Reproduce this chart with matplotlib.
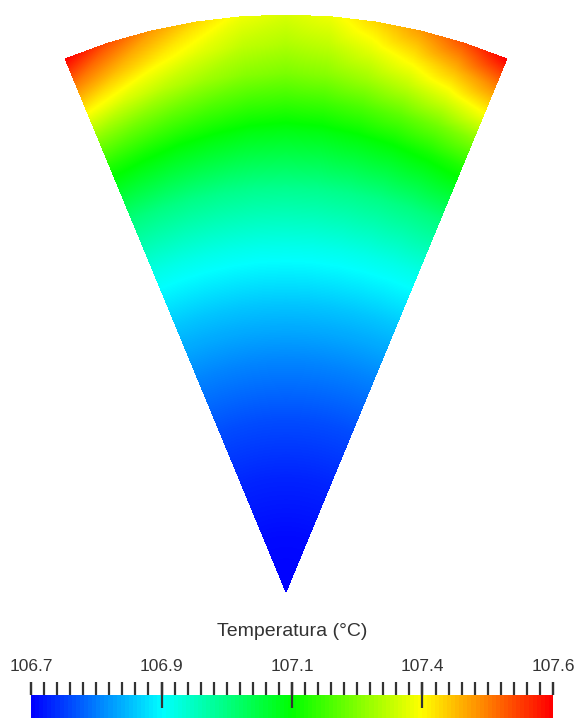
import numpy as np
import matplotlib
matplotlib.use("Agg")
import matplotlib.pyplot as plt
from matplotlib.colors import LinearSegmentedColormap, ListedColormap, Normalize
import matplotlib.tri as mtri
from matplotlib.cm import ScalarMappable

# ---------------- data ----------------
# radial positions (fraction of sector radius) and half-angle fractions (0 = centre line, 1 = side edge)
RADII = [0.1, 0.2, 0.3, 0.4, 0.5, 0.6, 0.7, 0.8, 0.85, 0.9, 0.95, 1.0]
ANGLE_FRACTIONS = [0.0, 0.2, 0.4, 0.6, 0.8, 1.0]
HALF_ANGLE_DEG = 22.5
APEX_TEMP = 106.670
# temperatures (°C); rows follow RADII, columns follow ANGLE_FRACTIONS (symmetric about centre line)
TEMPS = [
    [106.679, 106.679, 106.679, 106.679, 106.679, 106.679],
    [106.702, 106.702, 106.702, 106.702, 106.702, 106.702],
    [106.738, 106.738, 106.738, 106.738, 106.738, 106.738],
    [106.788, 106.788, 106.788, 106.788, 106.788, 106.788],
    [106.847, 106.847, 106.847, 106.847, 106.847, 106.847],
    [106.916, 106.916, 106.917, 106.918, 106.919, 106.920],
    [106.998, 106.999, 107.002, 107.006, 107.011, 107.016],
    [107.107, 107.110, 107.119, 107.128, 107.140, 107.152],
    [107.171, 107.176, 107.189, 107.205, 107.223, 107.243],
    [107.234, 107.244, 107.265, 107.290, 107.319, 107.353],
    [107.280, 107.294, 107.327, 107.365, 107.411, 107.462],
    [107.316, 107.337, 107.385, 107.440, 107.506, 107.580],
]
VMIN, VMAX = 106.67, 107.58
CMAP_COLORS = ["#0000ff", "#00ffff", "#00ff00", "#ffff00", "#ff0000"]
N_FIELD_LEVELS = 512
N_BAR_COLORS = 128
N_MAJOR = 5
N_TICKS = 41
TITLE = "Temperatura (°C)"

# ---------------- figure ----------------
W, H = 579, 718
fig = plt.figure(figsize=(W / 100, H / 100), dpi=100)
plt.rcParams["font.family"] = ["Liberation Sans", "DejaVu Sans"]

# layout: apex pixel position and sector radius in pixels
APEX_X, APEX_Y, R_PX = 286, 592, 577
ax = fig.add_axes([0, 0, 1, 1])
ax.set_xlim(-APEX_X / R_PX, (W - APEX_X) / R_PX)
ax.set_ylim((APEX_Y - H) / R_PX, APEX_Y / R_PX)
ax.axis("off")

base = LinearSegmentedColormap.from_list("rainbow5", CMAP_COLORS, N=1024)
field_cmap = ListedColormap(base(np.linspace(0, 1, N_FIELD_LEVELS)))
bar_cmap = ListedColormap(base(np.linspace(0, 1, N_BAR_COLORS)))
norm = Normalize(VMIN, VMAX)

# build mesh from the table (mirror the half table)
phis = np.array(ANGLE_FRACTIONS)
full_phi = np.concatenate([-phis[::-1], phis[1:]])
temps = np.array(TEMPS)
full_T = np.concatenate([temps[:, ::-1], temps[:, 1:]], axis=1)
theta = np.deg2rad(full_phi * HALF_ANGLE_DEG)
nr, na = full_T.shape
xs = [0.0]
ys = [0.0]
zs = [APEX_TEMP]
for i, r in enumerate(RADII):
    xs.extend(r * np.sin(theta))
    ys.extend(r * np.cos(theta))
    zs.extend(full_T[i])
xs = np.array(xs); ys = np.array(ys); zs = np.array(zs)


def idx(i, j):
    return 1 + i * na + j


tris = []
for j in range(na - 1):
    tris.append([0, idx(0, j), idx(0, j + 1)])
for i in range(nr - 1):
    for j in range(na - 1):
        a, b = idx(i, j), idx(i, j + 1)
        c, d = idx(i + 1, j), idx(i + 1, j + 1)
        tris.append([a, c, d])
        tris.append([a, d, b])
tri = mtri.Triangulation(xs, ys, np.array(tris))
levels = np.linspace(VMIN, VMAX, N_FIELD_LEVELS + 1)
ax.tricontourf(tri, zs, levels=levels, cmap=field_cmap, norm=norm, antialiased=False)

# ---------------- colorbar ----------------
TXT = "#333333"
cax = fig.add_axes([31 / W, 0, 522 / W, 23 / H])
sm = ScalarMappable(norm=norm, cmap=bar_cmap)
cb = fig.colorbar(sm, cax=cax, orientation="horizontal")
cb.outline.set_visible(False)
cax.xaxis.set_ticks_position("top")
cax.xaxis.set_label_position("top")
major_vals = np.linspace(VMIN, VMAX, N_MAJOR)
cax.set_xticks(major_vals, [f"{v:.1f}" for v in major_vals])
cax.set_xticks(np.linspace(VMIN, VMAX, N_TICKS), minor=True)
cax.tick_params(axis="x", which="both", direction="out", length=9.5, width=1.6,
                color=TXT, top=True, bottom=False)
cax.tick_params(axis="x", which="major", labelsize=12.5, labelcolor=TXT, pad=5.5)
cax.xaxis.remove_overlapping_locs = False

# longer ticks at the inner major positions (reaching into the bar)
sec = cax.secondary_xaxis("top")
sec.set_zorder(10)
sec.spines["top"].set_visible(False)
sec.set_xticks(major_vals[1:-1], ["", "", ""])
sec.tick_params(axis="x", which="major", direction="inout", length=18.5, width=1.6, color=TXT)
sec.xaxis.set_minor_locator(matplotlib.ticker.NullLocator())

fig.text(292 / W, 1 - 632 / H, TITLE, ha="center", va="center", fontsize=14, color=TXT)

fig.savefig("out.png", dpi=100)
